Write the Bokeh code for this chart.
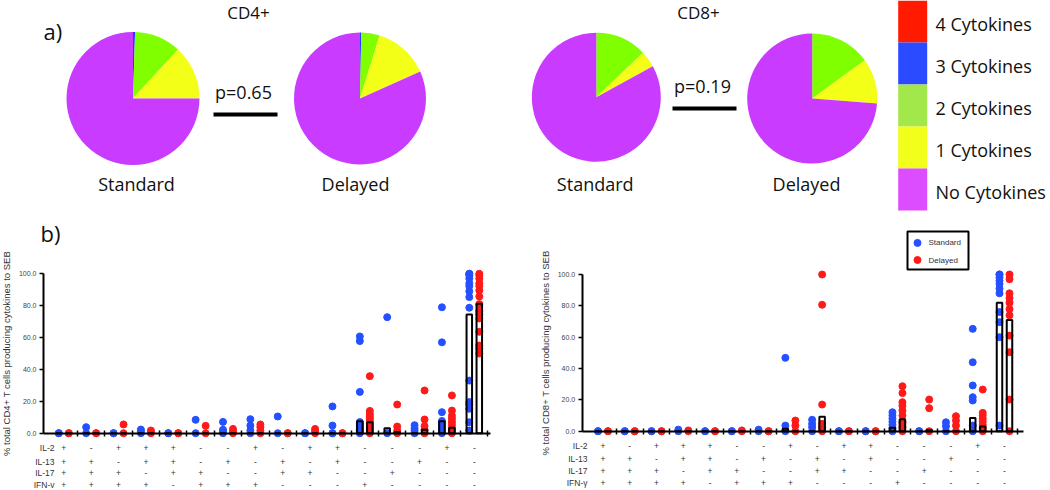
import math
from bokeh.plotting import figure
from bokeh.models import Range1d, FixedTicker, PrintfTickFormatter, ColumnDataSource
from bokeh.layouts import column, row
from bokeh.embed import file_html
from bokeh.resources import INLINE
from bokeh.core.properties import value

# ---------------- data ----------------
pie_categories = ["4 Cytokines", "3 Cytokines", "2 Cytokines", "1 Cytokines", "No Cytokines"]
cd4_standard_pie = [0.0, 0.5, 11.3, 13.2, 75.0]
cd4_delayed_pie = [0.0, 0.3, 4.5, 13.5, 81.7]
cd8_standard_pie = [0.0, 0.0, 12.9, 4.1, 83.0]
cd8_delayed_pie = [0.0, 0.0, 15.0, 11.2, 73.8]
panel_titles = ["CD4+", "CD8+"]
p_values = ["p=0.65", "p=0.19"]
conditions = ["Standard", "Delayed"]

cytokines = ["IL-2", "IL-13", "IL-17", "IFN-γ"]
combos = ["++++", "-+++", "+-++", "++-+", "+++-", "--++", "-+-+", "+--+",
          "-++-", "+-+-", "++--", "---+", "--+-", "-+--", "+---", "----"]

cd4_standard = [
    [0, 0], [0, 3.8], [0, 0], [0, 1.1, 2.3], [0, 0], [0, 8.4], [0, 1.0, 2.2, 7.1],
    [0, 1.7, 4.8, 8.8], [0, 10.5], [0, 0], [0, 0, 4.8, 16.8],
    [0, 0.8, 1.6, 2.4, 3.2, 4.0, 5.0, 6.0, 7.0, 25.9, 57.8, 60.7],
    [0, 72.8], [0, 1.5, 3.0, 5.0], [0, 2.0, 4.0, 6.0, 7.7, 13.2, 57.0, 79.0],
    [1.7, 6.9, 15.3, 18.0, 19.5, 33.0, 78.7, 85.4, 89.0, 92.3, 94.0, 97.0, 99.0, 100.0, 100.0],
]
cd4_delayed = [
    [0, 0], [0, 0], [0, 5.5], [0, 0.7, 1.7], [0, 0], [0, 4.6], [0, 1.0, 2.7],
    [0, 1.7, 3.8, 5.5], [0, 0], [0, 1.3, 2.7], [0, 0],
    [0, 1.5, 3.0, 4.5, 6.0, 7.5, 9.0, 10.5, 12.0, 14.0, 35.8],
    [0, 1.5, 4.2, 18.0], [0, 2.0, 4.5, 8.6, 26.8], [0, 1.5, 3.0, 5.0, 7.0, 9.0, 11.0, 14.2, 23.7],
    [50.0, 53.0, 55.0, 63.6, 72.0, 74.5, 76.6, 81.0, 85.8, 89.6, 92.3, 94.0, 97.0, 99.0, 100.0],
]
cd4_standard_bar = [0, 0, 0, 0, 0, 0, 0, 0, 0, 0, 0, 7.5, 3.1, 0, 7.5, 74.5]
cd4_delayed_bar = [0, 0, 0, 0, 0, 0, 0, 0, 0, 0, 0, 6.9, 0.8, 2.1, 3.4, 81.2]

cd8_standard = [
    [0, 0], [0, 0], [0, 0], [0, 1.0], [0, 0], [0, 0], [0, 1.0],
    [0, 3.6, 46.8], [0, 2.6, 4.7, 7.3], [0, 0], [0, 0],
    [0, 2.0, 4.0, 6.0, 8.0, 10.0, 12.1], [0, 0], [0, 3.2, 5.7],
    [0, 3.6, 19.6, 21.7, 29.2, 44.0, 65.3],
    [3.6, 60.0, 69.6, 76.0, 88.0, 91.0, 94.0, 96.0, 98.0, 100.0, 100.0],
]
cd8_delayed = [
    [0, 0], [0, 0], [0, 0], [0, 0.5], [0, 0], [0, 0.5], [0, 0],
    [0, 3.6, 6.8], [0, 2.5, 4.7, 17.0, 80.7, 100.0], [0, 0], [0, 0],
    [0, 2.5, 5.7, 10.0, 13.2, 16.4, 18.5, 24.3, 28.7], [0, 14.7, 20.2],
    [0, 3.6, 6.8, 9.6], [0, 2.0, 4.0, 6.0, 8.0, 10.0, 11.7, 26.6],
    [0, 20.2, 50.4, 61.0, 74.0, 78.0, 82.0, 85.0, 88.0, 97.0, 100.0],
]
cd8_standard_bar = [0, 0, 0, 0, 0, 0, 0, 1.5, 0, 0, 0, 2.2, 0, 0, 8.5, 82.0]
cd8_delayed_bar = [0, 0, 0, 0, 0, 0, 0, 0, 9.2, 0, 0, 7.7, 0.8, 0, 3.0, 71.0]

y_ticks = [0, 20, 40, 60, 80, 100]
y_labels = ["% total CD4+ T cells producing cytokines to SEB",
            "% total CD8+ T cells producing cytokines to SEB"]

# ---------------- styles / layout (reference pixel positions) ----------------
W, TOP_H, BOT_H = 1048, 218, 270
LEFT_W = 515
PIE_COLORS = ["#FF1A00", "#1F3DFF", "#80FF00", "#F4FF17", "#C93BFF"]
LEG_COLORS = ["#FF1A00", "#2A4BFF", "#A3E84A", "#F1FF1A", "#DC4DFF"]
BLUE, RED = "#2450FF", "#FF1A1A"
SANS = "Open Sans"
ARIAL = "Liberation Sans"
DARK = "#111111"


def ty(ry):
    return TOP_H - ry


top = figure(width=W, height=TOP_H, x_range=Range1d(0, W), y_range=Range1d(0, TOP_H),
             output_backend="svg", toolbar_location=None, x_axis_location=None,
             y_axis_location=None, min_border=0, outline_line_color=None)
top.grid.visible = False

pie_specs = [(cd4_standard_pie, 132.5, 98.0, 66.5), (cd4_delayed_pie, 359.5, 98.0, 66.0),
             (cd8_standard_pie, 595.8, 96.7, 64.5), (cd8_delayed_pie, 811.7, 98.0, 65.0)]
for vals, cx, cy, r in pie_specs:
    total = float(sum(vals))
    st, en, cols = [], [], []
    cum = 0.0
    for v, c in zip(vals, PIE_COLORS):
        if v <= 0:
            continue
        st.append(math.pi / 2 - 2 * math.pi * cum / total)
        cum += v
        en.append(math.pi / 2 - 2 * math.pi * cum / total)
        cols.append(c)
    src = ColumnDataSource(dict(x=[cx] * len(st), y=[ty(cy)] * len(st), s=st, e=en, c=cols))
    top.wedge(x="x", y="y", radius=r, start_angle="s", end_angle="e", direction="clock",
              fill_color="c", line_color=None, source=src)

top.text(x=[136, 355, 594.7, 806], y=[ty(183.5)] * 4, text=conditions * 2,
         text_font=value(SANS), text_font_size="18px", text_align="center",
         text_baseline="middle", text_color=DARK)
top.text(x=[248, 698], y=[ty(11.5)] * 2, text=panel_titles, text_font=value(SANS),
         text_font_size="17px", text_align="center", text_baseline="middle",
         text_color=DARK)
top.text(x=[243, 702], y=[ty(91), ty(85)], text=p_values, text_font=value(SANS),
         text_font_size="18px", text_align="center", text_baseline="middle",
         text_color=DARK)
top.segment(x0=[213, 672], y0=[ty(114), ty(108)], x1=[277, 736], y1=[ty(114), ty(108)],
            line_width=4, line_color="black")
top.text(x=[43], y=[ty(30)], text=["a)"], text_font=value(SANS), text_font_size="22px",
         text_align="left", text_baseline="middle", text_color=DARK)

band = 42.0
top.quad(left=[897.7] * 5, right=[926.7] * 5,
         top=[ty(band * k) for k in range(5)], bottom=[ty(band * (k + 1)) for k in range(5)],
         fill_color=LEG_COLORS, line_color=None)
top.text(x=[935] * 5, y=[ty(band * k + 23.5) for k in range(5)], text=pie_categories,
         text_font=value(SANS), text_font_size="18px", text_align="left",
         text_baseline="middle", text_color=DARK)


def make_panel(fig_w, x0, ref_axis_x, ref_axis_end, ref_g1, ref_g16, ref_y0, ref_y100,
               ref_rows, ref_name_x, std, dly, std_bar, dly_bar, ylabel,
               legend_box=None, tag=None):
    pitch = (ref_g16 - ref_g1) / 15.0          # px per group
    lx_g1 = ref_g1 - x0

    def dx(rx):
        return 1 + (rx - x0 - lx_g1) / pitch

    ly0 = ref_y0 - TOP_H
    ppu = (ref_y0 - ref_y100) / 100.0           # px per % unit

    def dy(ry):
        return (ly0 - (ry - TOP_H)) / ppu

    p = figure(width=fig_w, height=BOT_H, x_range=Range1d(dx(x0), dx(x0 + fig_w)),
               y_range=Range1d(dy(TOP_H + BOT_H), dy(TOP_H)), x_axis_location="above",
               output_backend="svg", toolbar_location=None, min_border=0,
               outline_line_color=None)
    p.grid.visible = False

    x_axis = dx(ref_axis_x)
    xa = p.xaxis[0]
    xa.fixed_location = 0
    xa.bounds = (x_axis, dx(ref_axis_end))
    xa.ticker = FixedTicker(ticks=[i + 0.5 for i in range(1, 17)])
    xa.major_tick_in = 3
    xa.major_tick_out = 3
    xa.major_tick_line_width = 1.5
    xa.minor_tick_line_color = None
    xa.axis_line_width = 2
    xa.major_label_text_font_size = "1px"
    xa.major_label_text_alpha = 0
    xa.major_label_standoff = 0

    ya = p.yaxis[0]
    ya.fixed_location = x_axis
    ya.bounds = (0, 100)
    ya.ticker = FixedTicker(ticks=y_ticks)
    ya.formatter = PrintfTickFormatter(format="%.1f")
    ya.axis_line_width = 2
    ya.major_tick_in = 0
    ya.major_tick_out = 4
    ya.major_tick_line_width = 1.5
    ya.minor_tick_line_color = None
    ya.major_label_text_font_size = "7px"
    ya.major_label_text_font = ARIAL
    ya.major_label_text_color = "#444444"
    ya.major_label_standoff = 3
    ya.axis_label = ylabel
    ya.axis_label_text_font_size = "9.5px"
    ya.axis_label_text_font = ARIAL
    ya.axis_label_text_font_style = "normal"
    ya.axis_label_text_color = "#333333"
    ya.axis_label_standoff = 4

    off = 5.0 / pitch
    bx, by, rx, ry = [], [], [], []
    for i, vals in enumerate(std):
        bx += [i + 1 - off] * len(vals)
        by += list(vals)
    for i, vals in enumerate(dly):
        rx += [i + 1 + off] * len(vals)
        ry += list(vals)
    p.scatter(bx, by, size=7, color=BLUE)
    p.scatter(rx, ry, size=7, color=RED)
    bw = 5.5 / pitch
    p.vbar(x=[i + 1 - off for i in range(16)], top=std_bar, bottom=0, width=bw,
           fill_color=None, line_color="black", line_width=2)
    p.vbar(x=[i + 1 + off for i in range(16)], top=dly_bar, bottom=0, width=bw,
           fill_color=None, line_color="black", line_width=2)

    tx, tyy, tt = [], [], []
    for r, ref_r in enumerate(ref_rows):
        for g, combo in enumerate(combos):
            tx.append(g + 1)
            tyy.append(dy(ref_r))
            tt.append(combo[r])
    p.text(tx, tyy, text=tt, text_align="center", text_baseline="middle",
           text_font=value(ARIAL), text_font_size="8.5px", text_color="#333333")
    p.text([dx(ref_name_x)] * 4, [dy(v) for v in ref_rows], text=cytokines,
           text_align="right", text_baseline="middle", text_font=value(ARIAL),
           text_font_size="8.5px", text_color="#333333")

    if tag is not None:
        t_text, t_rx, t_ry = tag
        p.text([dx(t_rx)], [dy(t_ry)], text=[t_text], text_align="left",
               text_baseline="middle", text_font=value(SANS), text_font_size="22px",
               text_color=DARK)

    if legend_box is not None:
        l, r_, t, b = legend_box
        p.quad(left=[dx(l)], right=[dx(r_)], top=[dy(t)], bottom=[dy(b)],
               fill_color="white", line_color="black", line_width=2)
        ys = [dy(t + (b - t) * 0.3), dy(t + (b - t) * 0.75)]
        p.scatter([dx(l + 10)] * 2, ys, size=7, color=[BLUE, RED])
        p.text([dx(l + 21)] * 2, ys, text=conditions, text_align="left",
               text_baseline="middle", text_font=value(ARIAL), text_font_size="8px",
               text_color="#333333")
    return p


left = make_panel(LEFT_W, 0, 43, 490, 63.3, 473.8, 432.7, 273.3, [447, 461, 472, 484], 54,
                  cd4_standard, cd4_delayed, cd4_standard_bar, cd4_delayed_bar, y_labels[0],
                  tag=("b)", 40, 232))
right = make_panel(W - LEFT_W, LEFT_W, 581.7, 1022.7, 602.5, 1004, 430.7, 274,
                   [445, 458.3, 470, 482.7], 587,
                   cd8_standard, cd8_delayed, cd8_standard_bar, cd8_delayed_bar, y_labels[1],
                   legend_box=(907, 968, 231, 269))

layout = column(top, row(left, right))
open("out.html", "w").write(file_html(layout, INLINE))
